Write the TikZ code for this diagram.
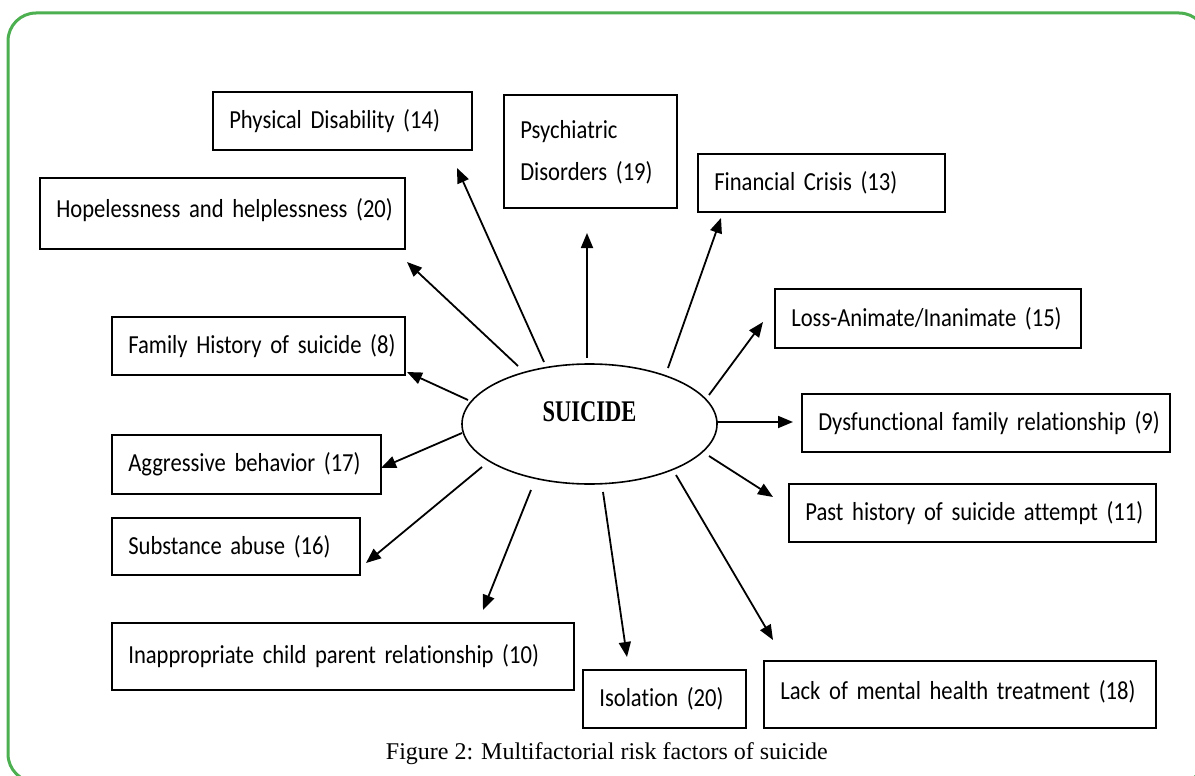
\documentclass[tikz,border=0pt]{standalone}
\usepackage{fontspec}
\setmainfont{Liberation Serif}
\newfontfamily\boxfont{Carlito}[FakeStretch=0.87, Ligatures=NoCommon]
\newfontfamily\headfont{Liberation Serif}[FakeStretch=0.75]
\newcommand\myboxsetup{\boxfont\fontsize{26}{42}\selectfont\fontdimen2\font=4.6pt\fontdimen3\font=0pt\fontdimen4\font=0pt\relax}
\usetikzlibrary{arrows.meta,shapes.geometric}
\definecolor{framegreen}{RGB}{76,175,80}
\begin{document}
\begin{tikzpicture}[x=1pt,y=-1pt,
  factor/.style={draw, line width=1.6pt, anchor=north west, inner xsep=16.5pt,
    inner ysep=0pt, align=left, font=\myboxsetup},
  link/.style={line width=1.8pt, -{Triangle[length=15pt,width=12pt]}}]
\useasboundingbox (0,0) rectangle (1195,776);
\clip (0,0) rectangle (1195,776);
\draw[framegreen, line width=3pt, rounded corners=28pt] (8,13) rectangle (1207,782);

% factor boxes
\node[factor, minimum width=259pt, minimum height=58pt, text width=226pt] (phys) at (212,91) {\mbox{Physical Disability (14)}};
\node[factor, minimum width=173pt, minimum height=113pt, text width=140pt] (psych) at (503,94)
  {\raisebox{12pt}{\begin{tabular}{@{}l@{}}Psychiatric\\Disorders (19)\end{tabular}}};
\node[factor, minimum width=247pt, minimum height=58pt, text width=214pt] (fin) at (697,153) {\mbox{Financial Crisis (13)}};
\node[factor, minimum width=306pt, minimum height=59pt, text width=273pt] (loss) at (774,288) {\mbox{Loss-Animate/Inanimate (15)}};
\node[factor, minimum width=368pt, minimum height=58pt, text width=335pt] (dys) at (801,393) {\mbox{Dysfunctional family relationship (9)}};
\node[factor, minimum width=367pt, minimum height=58pt, text width=334pt] (past) at (788,483) {\mbox{Past history of suicide attempt (11)}};
\node[factor, minimum width=392pt, minimum height=67pt, text width=359pt] (lack) at (763,660) {\raisebox{8pt}{Lack of mental health treatment (18)}};
\node[factor, minimum width=163pt, minimum height=58pt, text width=130pt] (iso) at (582,669) {\mbox{Isolation (20)}};
\node[factor, minimum width=462pt, minimum height=67pt, text width=429pt] (inapp) at (111,622) {\mbox{Inappropriate child parent relationship (10)}};
\node[factor, minimum width=248pt, minimum height=57pt, text width=215pt] (subst) at (111,517) {\mbox{Substance abuse (16)}};
\node[factor, minimum width=269pt, minimum height=59pt, text width=236pt] (aggr) at (111,434) {\mbox{Aggressive behavior (17)}};
\node[factor, minimum width=293pt, minimum height=58pt, text width=260pt] (fam) at (111,316) {\mbox{Family History of suicide (8)}};
\node[factor, minimum width=365pt, minimum height=71pt, text width=332pt] (hope) at (39,177) {\raisebox{10pt}{Hopelessness and helplessness (20)}};

% centre
\node[ellipse, draw, line width=1.6pt, minimum width=255pt, minimum height=120pt, inner sep=0pt,
  font=\headfont\bfseries\fontsize{30}{30}\selectfont] (s) at (589.5,424) {\raisebox{24pt}{SUICIDE}};

% arrow ends
\coordinate (physA) at (544,362);  \coordinate (physB) at (457,168);
\coordinate (psychA) at (587,358); \coordinate (psychB) at (587,233);
\coordinate (finA) at (668,368);   \coordinate (finB) at (721,218);
\coordinate (lossA) at (709,395);  \coordinate (lossB) at (763,322);
\coordinate (dysA) at (717,422);   \coordinate (dysB) at (793,422);
\coordinate (pastA) at (709,456);  \coordinate (pastB) at (773,497);
\coordinate (lackA) at (676,475);  \coordinate (lackB) at (773,640);
\coordinate (isoA) at (603,492);   \coordinate (isoB) at (627,657);
\coordinate (inappA) at (531,490); \coordinate (inappB) at (483,610);
\coordinate (substA) at (482,467); \coordinate (substB) at (366,563);
\coordinate (aggrA) at (462,433);  \coordinate (aggrB) at (381,468);
\coordinate (famA) at (468,400);   \coordinate (famB) at (407,372);
\coordinate (hopeA) at (518,366);  \coordinate (hopeB) at (407,262);

\foreach \n in {phys,psych,fin,loss,dys,past,lack,iso,inapp,subst,aggr,fam,hope}
  \draw[link] (\n A) -- (\n B);

\node[anchor=base east, inner sep=0pt, font=\fontsize{24}{24}\selectfont] (cap) at (828,759)
  {Figure 2: Multifactorial risk factors of suicide};
\end{tikzpicture}
\end{document}
